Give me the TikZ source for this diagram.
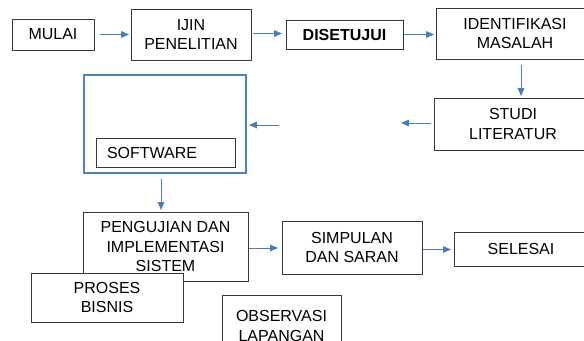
\documentclass[tikz,border=0pt]{standalone}
\usepackage{fontspec}
\setmainfont{Liberation Sans}
\usetikzlibrary{arrows.meta}
\definecolor{arrblue}{RGB}{74,126,187}
\definecolor{boxblue}{RGB}{79,129,189}
\definecolor{boxline}{RGB}{55,55,55}
\tikzset{
  box/.style={draw=boxline, line width=0.65pt, fill=white, rectangle, inner sep=0pt, outer sep=0pt, align=center,
    font=\fontsize{12}{14.6}\selectfont},
  arr/.style={draw=arrblue, line width=0.75pt, -{Triangle[length=6pt,width=5pt]}}
}
\begin{document}
\begin{tikzpicture}[x=0.75pt,y=-0.75pt]
\useasboundingbox (0,0) rectangle (584,340);
\clip (0,0) rectangle (584,340);
\node[box, minimum width=61.5pt, minimum height=23.25pt] (mulai) at (53,34.5) {MULAI};
\node[box, minimum width=90pt, minimum height=38.25pt] (ijin) at (191,34.5) {IJIN\\PENELITIAN};
\node[box, minimum width=87.75pt, minimum height=21.75pt] (dis) at (344.5,34.5) {\bfseries DISETUJUI};
\node[box, minimum width=118.5pt, minimum height=38.25pt] (ident) at (515,33.5) {IDENTIFIKASI\\MASALAH};
\node[box, minimum width=118.5pt, minimum height=39pt] (studi) at (513,124) {STUDI\\LITERATUR};
\node[draw=boxblue, line width=2pt, rectangle, inner sep=0pt, outer sep=0pt, minimum width=121.5pt, minimum height=73.5pt] (big) at (165,124) {};
\node[box, minimum width=104.25pt, minimum height=21.75pt, text width=87.75pt, inner xsep=8.25pt, align=left] (soft) at (165.5,152.5) {SOFTWARE};
\node[box, minimum width=123.75pt, minimum height=51.75pt] (peng) at (165.5,246.5) {PENGUJIAN DAN\\IMPLEMENTASI\\SISTEM};
\node[box, minimum width=114pt, minimum height=36.75pt] (proses) at (107,297.5) {PROSES\\BISNIS};
\node[box, minimum width=89.25pt, minimum height=46.5pt] (obs) at (281.5,326) {OBSERVASI\\LAPANGAN};
\node[box, minimum width=105pt, minimum height=39.75pt] (simp) at (352,247.5) {SIMPULAN\\DAN SARAN};
\node[box, minimum width=100.5pt, minimum height=25.5pt] (sel) at (521,249) {SELESAI};
\coordinate (free1) at (401,123);
\coordinate (free2) at (279,125);
\draw[arr] ([xshift=4.5pt]mulai.east) -- ([xshift=-1.5pt]mulai.east -| ijin.west);
\draw[arr] ([xshift=1.5pt,yshift=0.75pt]ijin.east) -- ([xshift=-3pt,yshift=0.75pt]ijin.east -| dis.west);
\draw[arr] ([xshift=0.75pt]dis.east) -- ([xshift=-1.5pt]dis.east -| ident.west);
\draw[arr] ([xshift=4.5pt,yshift=-4.5pt]ident.south) -- ([xshift=4.5pt,yshift=1.5pt]ident.south |- studi.north);
\draw[arr] ([xshift=-2.25pt,yshift=0.75pt]studi.west) -- (free1);
\draw[arr] (free2) -- ([xshift=2.25pt]free2 -| big.east);
\draw[arr] ([xshift=-3pt,yshift=-4.5pt]big.south) -- ([xshift=-3pt,yshift=1.5pt]big.south |- peng.north);
\draw[arr] ([xshift=0.75pt,yshift=-1.125pt]peng.east) -- ([xshift=-3pt,yshift=-1.125pt]peng.east -| simp.west);
\draw[arr] ([xshift=0.75pt,yshift=-1.5pt]simp.east) -- ([xshift=-2.25pt,yshift=-1.5pt]simp.east -| sel.west);
\end{tikzpicture}
\end{document}
